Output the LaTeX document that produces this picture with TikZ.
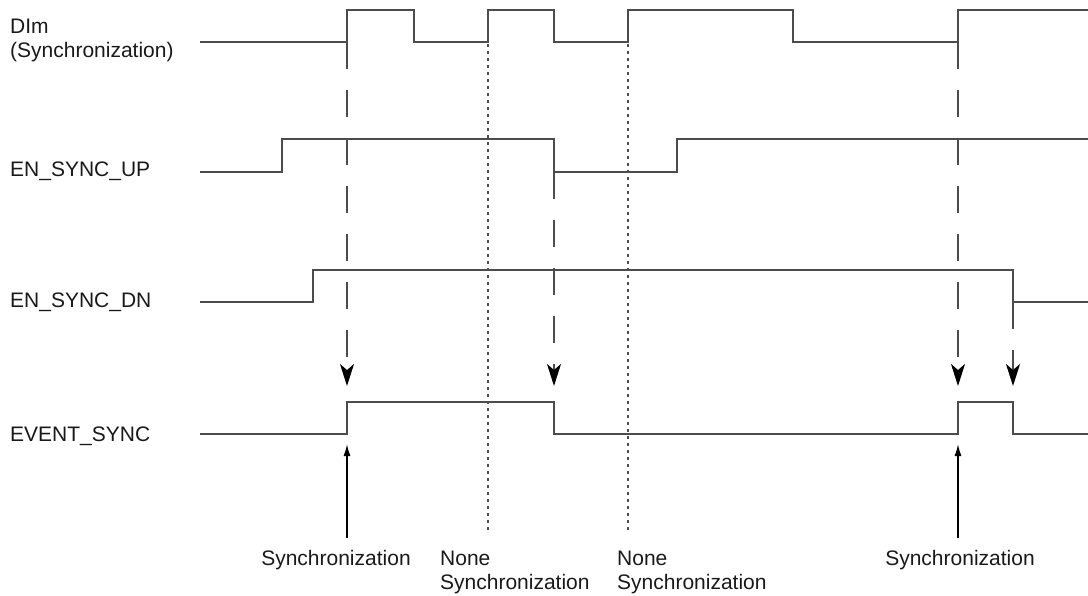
\documentclass[tikz,border=0pt]{standalone}
\usepackage{fontspec}
\setmainfont{Liberation Sans}
\usetikzlibrary{arrows.meta}
\begin{document}
\begin{tikzpicture}[x=1pt,y=-1pt,
  wave/.style={line width=1.8pt, draw=black!70, line join=miter},
  syncdash/.style={line width=1.8pt, draw=black!70, dash pattern=on 27pt off 21pt,
    -{Stealth[length=22pt,width=14pt,inset=6pt,color=black,fill=black]}},
  dotline/.style={line width=1.6pt, draw=black!70, dash pattern=on 3pt off 4pt},
  uparrow/.style={line width=1.5pt, draw=black, -{Latex[length=12pt,width=7pt]}},
  lbl/.style={font=\fontsize{21}{24}\selectfont, inner sep=0pt, align=left, text=black!90},
]
\useasboundingbox (0,0) rectangle (1088,596);

% signal labels
\node[lbl, anchor=north west] (ldim) at (10,19) {DIm\\(Synchronization)};
\node[lbl, anchor=base west] (lup) at (10,177) {EN\_SYNC\_UP};
\node[lbl, anchor=base west] (ldn) at (10,308) {EN\_SYNC\_DN};
\node[lbl, anchor=base west] (lev) at (10,441) {EVENT\_SYNC};

% waveforms
\draw[wave] (200,42) -- (347,42) -- (347,10) -- (414,10) -- (414,42) -- (488,42)
  -- (488,10) -- (554,10) -- (554,42) -- (628,42) -- (628,10) -- (793,10)
  -- (793,42) -- (958,42) -- (958,10) -- (1088,10);
\draw[wave] (200,172) -- (282,172) -- (282,139) -- (554,139) -- (554,172)
  -- (677,172) -- (677,139) -- (1088,139);
\draw[wave] (200,302) -- (313,302) -- (313,270) -- (1013,270) -- (1013,302) -- (1088,302);
\draw[wave] (200,434) -- (347,434) -- (347,402) -- (554,402) -- (554,434)
  -- (958,434) -- (958,402) -- (1013,402) -- (1013,434) -- (1088,434);

% connector end points
\coordinate (s1) at (347,42);
\coordinate (e1) at (347,386);
\coordinate (s2) at (554,172);
\coordinate (e2) at (554,386);
\coordinate (s3) at (958,42);
\coordinate (e3) at (958,386);
\coordinate (s4) at (1013,302);
\coordinate (e4) at (1013,386);
\coordinate (n1t) at (488,44);
\coordinate (n1b) at (488,533);
\coordinate (n2t) at (628,44);
\coordinate (n2b) at (628,533);
\coordinate (u1b) at (347,538);
\coordinate (u1t) at (347,444);
\coordinate (u2b) at (958,538);
\coordinate (u2t) at (958,444);

% dashed causal arrows
\draw[syncdash] (s1) -- (e1);
\draw[syncdash] (s2) -- (e2);
\draw[syncdash] (s3) -- (e3);
\draw[syncdash] (s4) -- (e4);

% dotted markers
\draw[dotline] (n1t) -- (n1b);
\draw[dotline] (n2t) -- (n2b);

% upward arrows
\draw[uparrow] (u1b) -- (u1t);
\draw[uparrow] (u2b) -- (u2t);

% bottom labels
\node[lbl, anchor=base] (b1) at (336,565) {Synchronization};
\node[lbl, anchor=north west] (b2) at (440,551) {None\\Synchronization};
\node[lbl, anchor=north west] (b3) at (617,551) {None\\Synchronization};
\node[lbl, anchor=base] (b4) at (960,565) {Synchronization};
\end{tikzpicture}
\end{document}
